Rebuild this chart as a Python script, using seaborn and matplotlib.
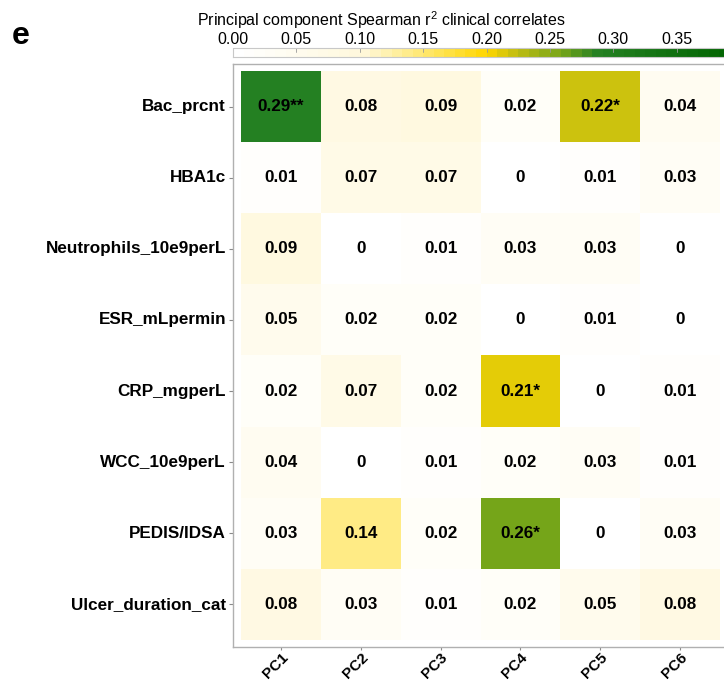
import numpy as np
import pandas as pd
import matplotlib
matplotlib.use("Agg")
import matplotlib.pyplot as plt
from matplotlib.colors import LinearSegmentedColormap, Normalize
import matplotlib.cm as cm
import seaborn as sns

# Clinical variables (rows) and principal components (columns)
clinical_vars = ["Bac_prcnt", "HBA1c", "Neutrophils_10e9perL", "ESR_mLpermin",
                 "CRP_mgperL", "WCC_10e9perL", "PEDIS/IDSA", "Ulcer_duration_cat"]
components = ["PC1", "PC2", "PC3", "PC4", "PC5", "PC6"]

# Spearman r^2 per clinical variable, one list per row
r2_bac = [0.29, 0.08, 0.09, 0.02, 0.22, 0.04]
r2_hba1c = [0.01, 0.07, 0.07, 0.00, 0.01, 0.03]
r2_neut = [0.09, 0.00, 0.01, 0.03, 0.03, 0.00]
r2_esr = [0.05, 0.02, 0.02, 0.00, 0.01, 0.00]
r2_crp = [0.02, 0.07, 0.02, 0.21, 0.00, 0.01]
r2_wcc = [0.04, 0.00, 0.01, 0.02, 0.03, 0.01]
r2_pedis = [0.03, 0.14, 0.02, 0.26, 0.00, 0.03]
r2_ulcer = [0.08, 0.03, 0.01, 0.02, 0.05, 0.08]

# Significance stars per cell
stars_bac = ["**", "", "", "", "*", ""]
stars_crp = ["", "", "", "*", "", ""]
stars_pedis = ["", "", "", "*", "", ""]

cbar_ticks = [0.00, 0.05, 0.10, 0.15, 0.20, 0.25, 0.30, 0.35]

values = pd.DataFrame([r2_bac, r2_hba1c, r2_neut, r2_esr, r2_crp, r2_wcc, r2_pedis, r2_ulcer],
                      index=clinical_vars, columns=components)
no_star = [""] * 6
stars = [stars_bac, no_star, no_star, no_star, stars_crp, no_star, stars_pedis, no_star]


def fmt(v):
    return "0" if v == 0 else f"{v:.2f}"


labels = np.array([[fmt(v) + st for v, st in zip(row, srow)]
                   for row, srow in zip(values.values, stars)])

sns.set_style("white")
plt.rcParams["font.family"] = ["Liberation Sans", "DejaVu Sans"]
plt.rcParams["mathtext.fontset"] = "custom"
plt.rcParams["mathtext.rm"] = "Liberation Sans"
plt.rcParams["mathtext.it"] = "Liberation Sans"
plt.rcParams["text.color"] = "black"
plt.rcParams["xtick.color"] = "black"
plt.rcParams["ytick.color"] = "black"
plt.rcParams["axes.labelcolor"] = "black"

vmin, vmax = 0.0, 0.4
# white -> cornsilk -> gold -> olive -> green -> dark green
stops = [(0.00, "#ffffff"), (0.10, "#fff8dc"), (0.20, "#ffd700"),
         (0.225, "#bebc12"), (0.26, "#76a519"), (0.29, "#248022"), (0.40, "#006400")]
cmap = LinearSegmentedColormap.from_list(
    "r2", [((v - vmin) / (vmax - vmin), c) for v, c in stops])

W, H = 724, 683
fig = plt.figure(figsize=(W / 100, H / 100), dpi=100)

# panel box in pixel coordinates
left, right, top, bottom = 233, 728, 64, 647
ax = fig.add_axes([left / W, 1 - bottom / H, (right - left) / W, (bottom - top) / H])

sns.heatmap(values, ax=ax, cmap=cmap, vmin=vmin, vmax=vmax, cbar=False,
            annot=labels, fmt="", linewidths=0,
            annot_kws={"fontsize": 12.3, "fontweight": "bold", "color": "black"})

ax.set_xlim(-0.1, len(components) + 0.1)
ax.set_ylim(len(clinical_vars) + 0.1, -0.1)
ax.set_xlabel("")
ax.set_ylabel("")

for sp in ax.spines.values():
    sp.set_visible(True)
    sp.set_color("#b0b0b0")
    sp.set_linewidth(1.0)

ax.tick_params(axis="y", which="major", length=3, width=0.8, color="#8a8a8a",
               left=True, pad=2, labelcolor="black")
ax.tick_params(axis="x", which="major", length=2.5, width=0.8, color="#8a8a8a",
               bottom=True, pad=0, labelcolor="black")
ax.set_yticklabels(clinical_vars, rotation=0, fontsize=12.3, fontweight="bold")
ax.set_xticklabels(components, rotation=45, ha="right", rotation_mode="anchor",
                   fontsize=11, fontweight="bold")

# horizontal colour bar across the top
cb_left, cb_right, cb_top, cb_bot = 233, 233 + 0.4 * 1268, 48, 57
cax = fig.add_axes([cb_left / W, 1 - cb_bot / H, (cb_right - cb_left) / W, (cb_bot - cb_top) / H])
sm = cm.ScalarMappable(norm=Normalize(vmin, vmax), cmap=cmap.resampled(48))
cb = fig.colorbar(sm, cax=cax, orientation="horizontal")
cb.set_ticks(cbar_ticks)
cb.set_ticklabels([f"{t:.2f}" for t in cbar_ticks])
cax.xaxis.set_ticks_position("top")
cax.xaxis.set_label_position("top")
cax.tick_params(axis="x", length=0, pad=1, labelsize=11.5, labelcolor="black")
for t in cbar_ticks:
    cax.plot([t, t], [0.55, 1.0], color="#9a9a9a", lw=0.6, transform=cax.get_xaxis_transform())
cb.outline.set_edgecolor("#c8c8c8")
cb.outline.set_linewidth(0.8)

fig.text(197 / W, 1 - 20 / H, "Principal component Spearman r$^{2}$ clinical correlates",
         ha="left", va="center", fontsize=11.5)
fig.text(12 / W, 1 - 36 / H, "e", ha="left", va="center", fontsize=23, fontweight="bold")

fig.savefig("out.png", dpi=100)
